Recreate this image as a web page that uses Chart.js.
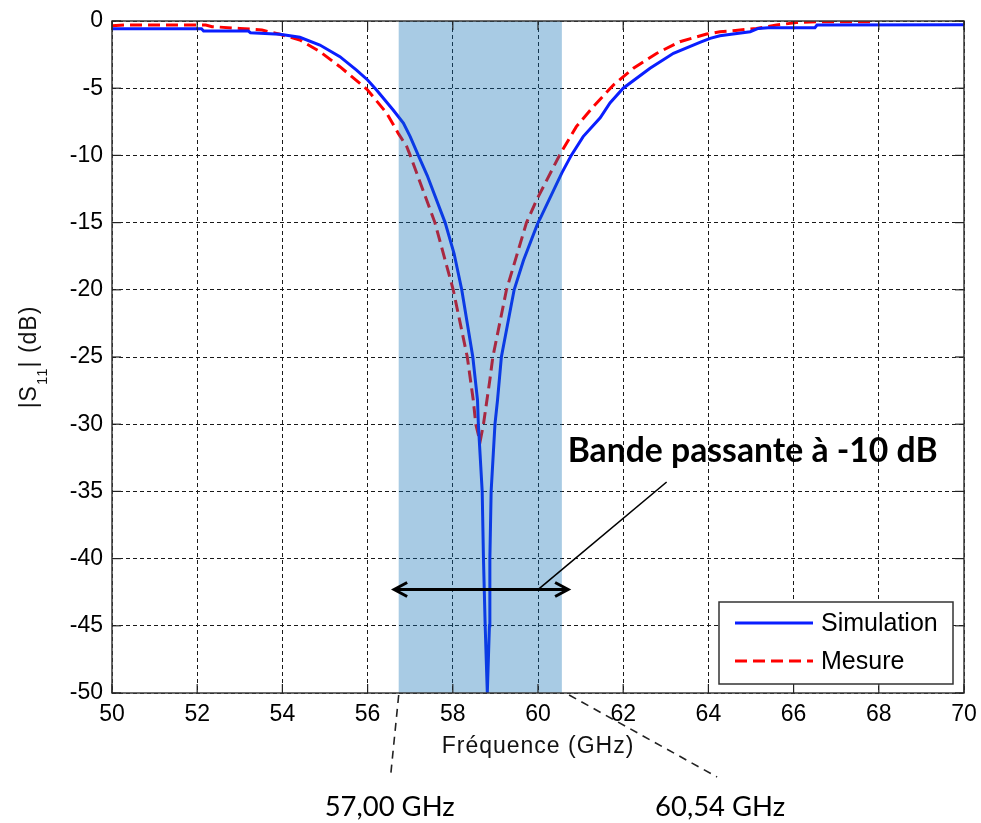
<!DOCTYPE html>
<html><head><meta charset="utf-8">
<script src="https://cdn.jsdelivr.net/npm/chart.js@4/dist/chart.umd.min.js"></script>
<style>html,body{margin:0;padding:0;background:#fff;overflow:hidden}#wrap{width:981px;height:823px;position:relative}</style>
</head><body><div id="wrap"><canvas id="c" width="981" height="823"></canvas></div>
<script>
// ---- data ----
const seriesNames = ['Simulation', 'Mesure'];
const simFreq = [50, 52.1, 52.15, 53.2, 53.25, 53.94, 54.41, 54.88, 55.35, 55.74, 56.0, 56.21, 56.6, 56.84, 57.0, 57.19, 57.4, 57.82, 58.03, 58.21, 58.47, 58.58, 58.6, 58.69, 58.72, 58.76, 58.81, 58.86, 58.87, 58.9, 58.99, 59.05, 59.14, 59.44, 59.66, 60.0, 60.05, 60.56, 60.78, 61.06, 61.46, 61.69, 62.0, 62.63, 63.18, 63.8, 64.04, 64.27, 64.58, 64.98, 65.17, 65.4, 66.5, 66.55, 70];
const simS11  = [-0.58, -0.58, -0.75, -0.75, -0.87, -0.99, -1.21, -1.79, -2.65, -3.65, -4.39, -5.13, -6.62, -7.6, -8.6, -10, -11.5, -15, -17.3, -20, -25, -28.2, -30, -35, -40, -45, -50, -45, -40, -35, -30, -28.2, -25, -20, -17.8, -15, -14.7, -11.3, -10, -8.6, -7.2, -6.1, -5.0, -3.52, -2.4, -1.59, -1.29, -1.1, -0.97, -0.8, -0.55, -0.5, -0.5, -0.3, -0.28];
const mesFreq = [50, 50.3, 52.2, 52.35, 53.0, 53.52, 53.94, 54.41, 54.88, 55.35, 55.82, 56.0, 56.45, 56.72, 56.92, 57.0, 57.58, 58.01, 58.34, 58.48, 58.54, 58.64, 58.72, 58.87, 58.94, 59.26, 59.73, 59.97, 60.52, 60.9, 61.3, 61.77, 62.24, 62.79, 63.33, 63.96, 64.27, 64.58, 65.13, 65.6, 66.07, 66.54, 67.8];
const mesS11  = [-0.35, -0.3, -0.3, -0.42, -0.55, -0.67, -0.99, -1.41, -2.28, -3.4, -4.64, -5.13, -6.87, -8.36, -9.35, -10, -15, -20, -25, -28.2, -30, -31.3, -30, -26.7, -25, -20, -15, -13.3, -9.9, -7.86, -6.37, -4.76, -3.52, -2.4, -1.54, -0.97, -0.8, -0.72, -0.55, -0.3, -0.12, -0.05, -0.05];
const xTicks = [50, 52, 54, 56, 58, 60, 62, 64, 66, 68, 70];
const yTicks = [0, -5, -10, -15, -20, -25, -30, -35, -40, -45, -50];
const bandStart = 56.73, bandEnd = 60.56;
const arrowFrom = 56.6, arrowTo = 60.73, arrowLevel = -42.3;
const calloutFrom = [60.0, -42.3], calloutTo = [63.02, -34.3];
const calloutText = 'Bande passante à -10 dB';
const bandLabels = ['57,00 GHz', '60,54 GHz'];
const xTitle = 'Fréquence (GHz)';

const BLUE = '#0a1eff', RED = '#ff0000';
const TICKFONT = '"Liberation Sans", Arial, sans-serif';

function fitFont(ctx, text, weight, family, targetW) {
  ctx.font = weight + ' 20px ' + family;
  const w = ctx.measureText(text).width;
  return weight + ' ' + (20 * targetW / w).toFixed(2) + 'px ' + family;
}

const overlay = {
  id: 'overlay',
  afterDatasetsDraw(chart) {
    const {ctx, chartArea: a, scales: {x, y}} = chart;
    const seg = (x0, y0, x1, y1) => { ctx.beginPath(); ctx.moveTo(x0, y0); ctx.lineTo(x1, y1); ctx.stroke(); };
    ctx.save();
    // shaded band (translucent, on top of curves)
    const bx0 = x.getPixelForValue(bandStart), bx1 = x.getPixelForValue(bandEnd);
    ctx.fillStyle = 'rgba(14,112,179,0.36)';
    ctx.fillRect(bx0, a.top, bx1 - bx0, a.bottom - a.top);
    // box
    ctx.strokeStyle = '#3a3a3a'; ctx.lineWidth = 1.5;
    ctx.strokeRect(a.left, a.top, a.right - a.left, a.bottom - a.top);
    // inward tick marks
    ctx.strokeStyle = '#222'; ctx.lineWidth = 1.2;
    xTicks.forEach(v => { const p = x.getPixelForValue(v); seg(p, a.bottom, p, a.bottom - 9); seg(p, a.top, p, a.top + 9); });
    yTicks.forEach(v => { const p = y.getPixelForValue(v); seg(a.left, p, a.left + 9, p); seg(a.right, p, a.right - 9, p); });
    // double arrow
    const ax0 = x.getPixelForValue(arrowFrom), ax1 = x.getPixelForValue(arrowTo), ay = y.getPixelForValue(arrowLevel);
    ctx.strokeStyle = '#000'; ctx.lineWidth = 3; ctx.lineCap = 'butt';
    seg(ax0 + 1, ay, ax1 - 1, ay);
    ctx.beginPath(); ctx.moveTo(ax0 + 14, ay - 7); ctx.lineTo(ax0 + 1, ay); ctx.lineTo(ax0 + 14, ay + 7); ctx.stroke();
    ctx.beginPath(); ctx.moveTo(ax1 - 14, ay - 7); ctx.lineTo(ax1 - 1, ay); ctx.lineTo(ax1 - 14, ay + 7); ctx.stroke();
    // callout line
    const cx0 = x.getPixelForValue(calloutFrom[0]), cy0 = y.getPixelForValue(calloutFrom[1]);
    const cx1 = x.getPixelForValue(calloutTo[0]), cy1 = y.getPixelForValue(calloutTo[1]);
    ctx.lineWidth = 1.6; seg(cx0, cy0, cx1, cy1);
    // callout text
    ctx.fillStyle = '#000';
    ctx.font = fitFont(ctx, calloutText, 'bold', 'Lato, "Open Sans", sans-serif', 370);
    ctx.textAlign = 'center'; ctx.textBaseline = 'middle';
    ctx.fillText(calloutText, cx1 + 86, cy1 - 31);
    // legend
    const L = a.right - 245, T = a.bottom - 91, W = 234, H = 82;
    ctx.fillStyle = '#fff'; ctx.fillRect(L, T, W, H);
    ctx.strokeStyle = '#333'; ctx.lineWidth = 1.5; ctx.strokeRect(L, T, W, H);
    ctx.lineWidth = 3;
    ctx.strokeStyle = BLUE; seg(L + 16, T + 21, L + 94, T + 21);
    ctx.strokeStyle = RED; ctx.setLineDash([12, 6]); seg(L + 16, T + 59, L + 94, T + 59); ctx.setLineDash([]);
    ctx.fillStyle = '#000'; ctx.font = '25px ' + TICKFONT; ctx.textAlign = 'left'; ctx.textBaseline = 'middle';
    ctx.fillText(seriesNames[0], L + 102, T + 22);
    ctx.fillText(seriesNames[1], L + 102, T + 60);
    ctx.restore();
  },
  afterDraw(chart) {
    const {ctx, chartArea: a, scales: {x}} = chart;
    ctx.save();
    // dashed leader lines below the axis
    const lx = x.getPixelForValue(bandStart), rx = x.getPixelForValue(arrowTo);
    ctx.strokeStyle = '#222'; ctx.lineWidth = 1.6; ctx.setLineDash([8, 6]);
    ctx.beginPath(); ctx.moveTo(lx, a.bottom + 2); ctx.lineTo(lx - 8, a.bottom + 82); ctx.stroke();
    ctx.beginPath(); ctx.moveTo(rx, a.bottom + 2); ctx.lineTo(rx + 148, a.bottom + 84); ctx.stroke();
    ctx.setLineDash([]);
    ctx.fillStyle = '#000'; ctx.textAlign = 'center'; ctx.textBaseline = 'middle';
    ctx.font = fitFont(ctx, bandLabels[0], 'normal', 'Lato, "Open Sans", sans-serif', 130);
    ctx.fillText(bandLabels[0], lx - 9, a.bottom + 114);
    ctx.fillText(bandLabels[1], rx + 151, a.bottom + 114);
    // x title
    ctx.fillStyle = '#111';
    ctx.font = '23px ' + TICKFONT;
    ctx.letterSpacing = '1px';
    ctx.fillText(xTitle, (a.left + a.right) / 2, a.bottom + 54);
    // y title with subscript, rotated
    ctx.translate(36, (a.top + a.bottom) / 2);
    ctx.rotate(-Math.PI / 2);
    ctx.textAlign = 'left'; ctx.textBaseline = 'alphabetic';
    const big = '23px ' + TICKFONT, small = '15px ' + TICKFONT;
    const parts = [['|S', big, 0], ['11', small, 11], ['| (dB)', big, 0]];
    let total = 0;
    parts.forEach(p => { ctx.font = p[1]; total += ctx.measureText(p[0]).width; });
    let px = -total / 2;
    parts.forEach(p => { ctx.font = p[1]; ctx.fillText(p[0], px, p[2]); px += ctx.measureText(p[0]).width; });
    ctx.restore();
  }
};

const ctx = document.getElementById('c').getContext('2d');
new Chart(ctx, {
  type: 'line',
  data: {
    datasets: [
      { label: seriesNames[0], data: simFreq.map((f, i) => ({x: f, y: simS11[i]})), borderColor: BLUE, borderWidth: 3, pointRadius: 0, tension: 0, fill: false },
      { label: seriesNames[1], data: mesFreq.map((f, i) => ({x: f, y: mesS11[i]})), borderColor: RED, borderWidth: 3, borderDash: [12, 6], pointRadius: 0, tension: 0, fill: false }
    ]
  },
  options: {
    responsive: false, animation: false, devicePixelRatio: 1,
    layout: { padding: { left: 0, right: 17, top: 21, bottom: 0 } },
    plugins: { legend: { display: false }, tooltip: { enabled: false }, title: { display: false } },
    scales: {
      x: {
        type: 'linear', min: 50, max: 70,
        afterBuildTicks: s => { s.ticks = xTicks.map(v => ({value: v})); },
        afterFit: s => { s.height = 130; s.paddingRight = 0; s.paddingLeft = 0; },
        ticks: { font: { family: TICKFONT, size: 23 }, color: '#000', padding: 8, maxRotation: 0, callback: v => String(v) },
        grid: { color: '#1a1a1a', lineWidth: 1, drawTicks: false },
        border: { display: false, dash: [4, 3] }
      },
      y: {
        type: 'linear', min: -50, max: 0,
        afterBuildTicks: s => { s.ticks = yTicks.map(v => ({value: v})); },
        afterFit: s => { s.width = 112; s.paddingTop = 0; s.paddingBottom = 0; },
        ticks: { font: { family: TICKFONT, size: 23 }, color: '#000', padding: 9, callback: v => String(v) },
        grid: { color: '#1a1a1a', lineWidth: 1, drawTicks: false },
        border: { display: false, dash: [4, 3] }
      }
    }
  },
  plugins: [overlay]
});
</script></body></html>
